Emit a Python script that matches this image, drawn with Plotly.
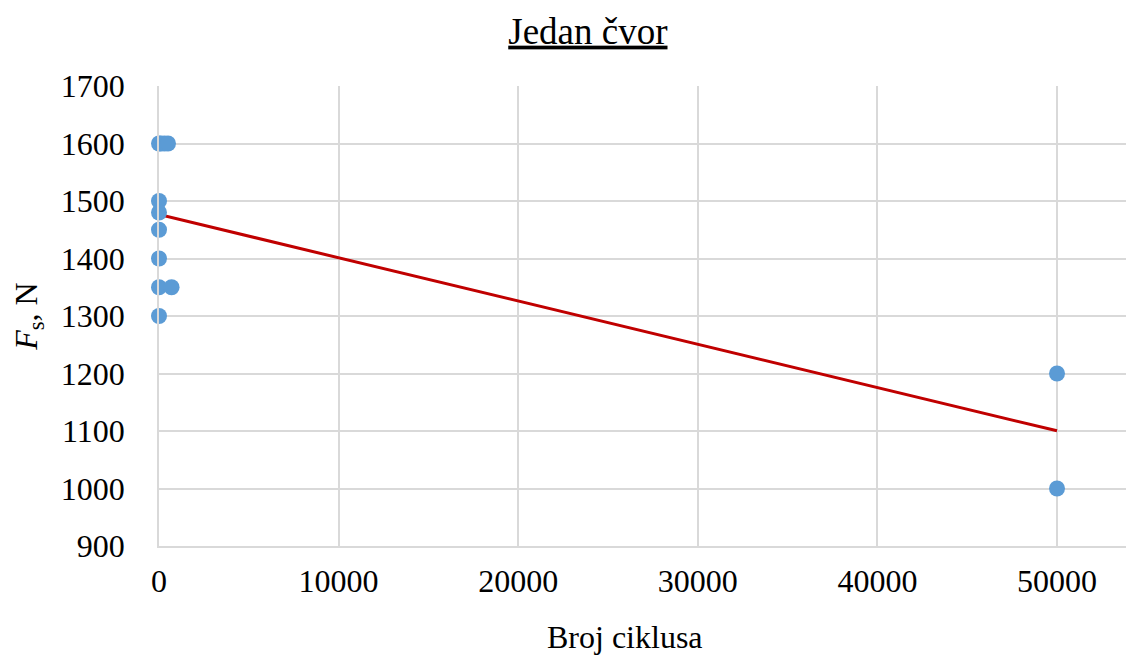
import numpy as np
import plotly.graph_objects as go

# cycles (Broj ciklusa) and force F_s in N
cycles = [0, 100, 300, 500, 0, 0, 0, 0, 0, 700, 0, 50000, 50000]
force = [1600, 1600, 1600, 1600, 1500, 1480, 1450, 1400, 1350, 1350, 1300, 1200, 1000]

x_ticks = [0, 10000, 20000, 30000, 40000, 50000]
y_ticks = [900, 1000, 1100, 1200, 1300, 1400, 1500, 1600, 1700]

# linear trendline like Excel
slope, intercept = np.polyfit(cycles, force, 1)
trend_x = [min(cycles), max(cycles)]
trend_y = [intercept + slope * v for v in trend_x]

FONT = "Liberation Serif, Times New Roman, serif"
GRID = "#d9d9d9"

fig = go.Figure()
fig.add_trace(go.Scatter(
    x=trend_x, y=trend_y, mode="lines",
    line=dict(color="#c00000", width=3),
    showlegend=False, hoverinfo="skip"
))
fig.add_trace(go.Scatter(
    x=cycles, y=force, mode="markers", cliponaxis=False,
    marker=dict(color="#5b9bd5", size=16),
    showlegend=False
))

# page body has an 8px margin, so the figure is a bit smaller than the window
fig.update_layout(
    width=1126, height=649,
    paper_bgcolor="white", plot_bgcolor="white",
    margin=dict(l=151, r=0, t=78, b=111),
    font=dict(family=FONT, size=32, color="black"),
    title=dict(text="<u>Jedan čvor</u>", x=0.515, xref="container", xanchor="center",
               y=0.965, yanchor="middle", font=dict(size=37)),
    xaxis=dict(range=[0, 54287], tickvals=x_ticks, tickformat="d",
               showgrid=True, gridcolor=GRID, gridwidth=1.5, zeroline=False,
               showline=True, linecolor=GRID, linewidth=1.5,
               ticks="", ticklabelstandoff=6),
    yaxis=dict(range=[900, 1700], tickvals=y_ticks, tickformat="d",
               showgrid=True, gridcolor=GRID, gridwidth=1.5, zeroline=False,
               showline=True, linecolor=GRID, linewidth=1.5,
               ticks="", ticklabelstandoff=26,
               title=dict(text="<i>F</i><sub>s</sub>, N", standoff=28, font=dict(size=32))),
)

# x title sits left of the plot centre, like in the original chart
fig.add_annotation(text="Broj ciklusa", xref="paper", yref="paper",
                   x=0.478, y=-0.198, xanchor="center", yanchor="middle",
                   showarrow=False, font=dict(size=32))

fig.write_html("out.html")
